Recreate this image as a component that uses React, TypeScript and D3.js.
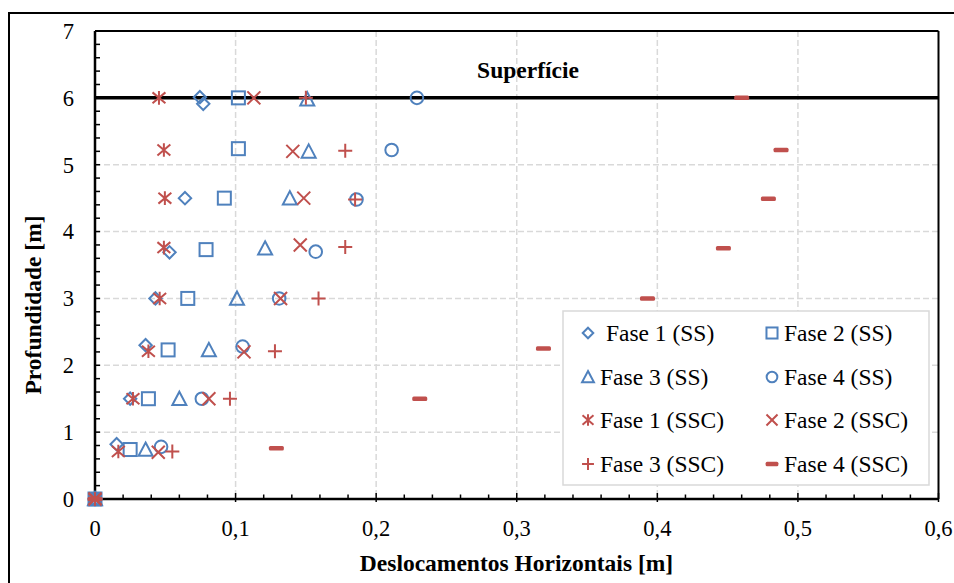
import React from "react";
import * as d3 from "d3";

const xTicks = [0, 0.1, 0.2, 0.3, 0.4, 0.5, 0.6];
const yTicks = [0, 1, 2, 3, 4, 5, 6, 7];
const surfaceDepth = 6;

const f1ssX = [0, 0.0154, 0.025, 0.036, 0.043, 0.053, 0.064, 0.077, 0.0746];
const f1ssY = [0, 0.82, 1.5, 2.3, 3.0, 3.69, 4.5, 5.91, 6.01];
const f2ssX = [0, 0.025, 0.038, 0.052, 0.066, 0.079, 0.092, 0.102, 0.102];
const f2ssY = [0, 0.74, 1.5, 2.23, 3.0, 3.73, 4.5, 5.24, 6.0];
const f3ssX = [0, 0.036, 0.06, 0.081, 0.101, 0.121, 0.1386, 0.152, 0.151];
const f3ssY = [0, 0.74, 1.5, 2.23, 3.0, 3.75, 4.5, 5.2, 5.98];
const f4ssX = [0, 0.047, 0.076, 0.105, 0.131, 0.157, 0.186, 0.211, 0.229];
const f4ssY = [0, 0.78, 1.5, 2.28, 3.0, 3.7, 4.48, 5.22, 6.0];
const f1sscX = [0, 0.0166, 0.027, 0.038, 0.046, 0.049, 0.0497, 0.049, 0.0455];
const f1sscY = [0, 0.71, 1.5, 2.21, 3.0, 3.76, 4.5, 5.22, 6.0];
const f2sscX = [0, 0.045, 0.081, 0.106, 0.132, 0.146, 0.1485, 0.1407, 0.113];
const f2sscY = [0, 0.7, 1.5, 2.2, 3.0, 3.8, 4.5, 5.2, 6.0];
const f3sscX = [0, 0.055, 0.096, 0.128, 0.159, 0.178, 0.185, 0.178, 0.15];
const f3sscY = [0, 0.71, 1.5, 2.21, 3.0, 3.77, 4.48, 5.21, 6.0];
const f4sscX = [0, 0.129, 0.231, 0.319, 0.393, 0.447, 0.479, 0.488, 0.46];
const f4sscY = [0, 0.76, 1.5, 2.25, 3.0, 3.75, 4.49, 5.22, 6.0];

const BLUE = "#4F81BD";
const RED = "#C0504D";

type Shape = "diamond" | "square" | "triangle" | "circle" | "asterisk" | "x" | "plus" | "dash";

const series: { label: string; xs: number[]; ys: number[]; shape: Shape; color: string }[] = [
  { label: " Fase 1 (SS)", xs: f1ssX, ys: f1ssY, shape: "diamond", color: BLUE },
  { label: "Fase 2 (SS)", xs: f2ssX, ys: f2ssY, shape: "square", color: BLUE },
  { label: "Fase 3 (SS)", xs: f3ssX, ys: f3ssY, shape: "triangle", color: BLUE },
  { label: "Fase 4 (SS)", xs: f4ssX, ys: f4ssY, shape: "circle", color: BLUE },
  { label: "Fase 1 (SSC)", xs: f1sscX, ys: f1sscY, shape: "asterisk", color: RED },
  { label: "Fase 2 (SSC)", xs: f2sscX, ys: f2sscY, shape: "x", color: RED },
  { label: "Fase 3 (SSC)", xs: f3sscX, ys: f3sscY, shape: "plus", color: RED },
  { label: "Fase 4 (SSC)", xs: f4sscX, ys: f4sscY, shape: "dash", color: RED },
];

function Marker({ shape, color, cx, cy, s = 1 }: { shape: Shape; color: string; cx: number; cy: number; s?: number }) {
  const sw = 2;
  const t = `translate(${cx},${cy})`;
  switch (shape) {
    case "diamond": {
      const r = 6.2 * s;
      return <path transform={t} d={`M0,${-r}L${r},0L0,${r}L${-r},0Z`} fill="none" stroke={color} strokeWidth={sw} />;
    }
    case "square": {
      const r = 6.5 * s;
      return <rect transform={t} x={-r} y={-r} width={2 * r} height={2 * r} fill="none" stroke={color} strokeWidth={sw} />;
    }
    case "triangle": {
      const r = 7 * s;
      return <path transform={t} d={`M0,${-r}L${r},${r * 0.9}L${-r},${r * 0.9}Z`} fill="none" stroke={color} strokeWidth={sw} />;
    }
    case "circle":
      return <circle cx={cx} cy={cy} r={6.3 * s} fill="none" stroke={color} strokeWidth={sw} />;
    case "asterisk": {
      const r = 6.8 * s;
      const a = r * 0.95;
      return <path transform={t} d={`M0,${-r}L0,${r}M${-a},${-a * 0.85}L${a},${a * 0.85}M${-a},${a * 0.85}L${a},${-a * 0.85}`} stroke={color} strokeWidth={sw} fill="none" />;
    }
    case "x": {
      const r = 6.5 * s;
      return <path transform={t} d={`M${-r},${-r}L${r},${r}M${-r},${r}L${r},${-r}`} stroke={color} strokeWidth={sw} fill="none" />;
    }
    case "plus": {
      const r = 7 * s;
      return <path transform={t} d={`M0,${-r}L0,${r}M${-r},0L${r},0`} stroke={color} strokeWidth={sw} fill="none" />;
    }
    case "dash": {
      const w = 15 * s, h = 4.5;
      return <rect transform={t} x={-w / 2} y={-h / 2} width={w} height={h} rx={1.5} fill={color} />;
    }
  }
  return null;
}

export default function App() {
  const W = 954, H = 583;
  const left = 95, right = 938.5, top = 31, bottom = 499;
  const x = d3.scaleLinear().domain([0, 0.6]).range([left, right]);
  const y = d3.scaleLinear().domain([0, 7]).range([bottom, top]);
  const font = "Times New Roman, Liberation Serif, DejaVu Serif, serif";
  const ts = { fontFamily: font };
  const xMinor = d3.range(0, 0.6001, 0.02);
  const yMinor = d3.range(0, 7.001, 0.2);
  const fmt = (v: number) => (v === 0 ? "0" : d3.format(".1f")(v).replace(".", ","));

  const legX = 563, legY = 311, legW = 366, legH = 174;
  const legCol = [588, 772];
  const legText = [600, 784];
  const legRows = [333, 377, 420, 464];

  return (
    <div style={{ position: "absolute", left: 0, top: 0 }}>
      <svg width={W} height={H} style={{ display: "block", background: "#fff", fontFamily: font }}>
        <rect x={9} y={13} width={960} height={600} fill="#fff" stroke="#000" strokeWidth={2} />
        {/* grid */}
        {xTicks.filter((v) => v > 0 && v < 0.6).map((v) => (
          <line key={"gx" + v} x1={x(v)} x2={x(v)} y1={top} y2={bottom} stroke="#d9d9d9" strokeWidth={1.5} strokeDasharray="6,3" />
        ))}
        {yTicks.filter((v) => v > 0 && v < 7).map((v) => (
          <line key={"gy" + v} x1={left} x2={right} y1={y(v)} y2={y(v)} stroke="#d9d9d9" strokeWidth={1.5} strokeDasharray="6,3" />
        ))}
        {/* frame */}
        <line x1={left} x2={right} y1={top} y2={top} stroke="#000" strokeWidth={2} />
        <line x1={right} x2={right} y1={top} y2={bottom} stroke="#000" strokeWidth={2} />
        <line x1={left} x2={left} y1={top} y2={bottom} stroke="#000" strokeWidth={2.5} />
        <line x1={left} x2={right} y1={bottom} y2={bottom} stroke="#000" strokeWidth={2.5} />
        {/* ticks */}
        {xMinor.map((v, i) => (
          <line key={"xt" + i} x1={x(v)} x2={x(v)} y1={bottom} y2={i % 5 === 0 ? bottom - 6 : bottom - 4.5} stroke="#000" strokeWidth={1.5} />
        ))}
        {xTicks.map((v) => (
          <line key={"xM" + v} x1={x(v)} x2={x(v)} y1={bottom} y2={bottom + 3} stroke="#000" strokeWidth={1.5} />
        ))}
        {yMinor.map((v, i) => (
          <line key={"yt" + i} x1={left} x2={left + 5} y1={y(v)} y2={y(v)} stroke="#000" strokeWidth={1.5} />
        ))}
        {/* tick labels */}
        {xTicks.map((v) => (
          <text key={"xl" + v} x={x(v)} y={536} textAnchor="middle" fontSize={22.5} fill="#000" style={ts}>{fmt(v)}</text>
        ))}
        {yTicks.map((v) => (
          <text key={"yl" + v} x={74} y={y(v)} dy="0.35em" textAnchor="end" fontSize={22.5} fill="#000" style={ts}>{v}</text>
        ))}
        {/* surface line */}
        <line x1={left} x2={right} y1={y(surfaceDepth)} y2={y(surfaceDepth)} stroke="#000" strokeWidth={3.5} />
        <text x={528} y={78} textAnchor="middle" fontSize={23.5} fontWeight="bold" fill="#000" style={ts}>Superfície</text>
        {/* data */}
        {series.map((s, si) =>
          s.xs.map((xv, i) => <Marker key={si + "-" + i} shape={s.shape} color={s.color} cx={x(xv)} cy={y(s.ys[i])} />)
        )}
        {/* axis titles */}
        <text x={516.5} y={571} textAnchor="middle" fontSize={23.5} fontWeight="bold" fill="#000" style={ts}>Deslocamentos Horizontais [m]</text>
        <text transform="translate(41,305) rotate(-90)" textAnchor="middle" fontSize={23.5} fontWeight="bold" fill="#000" style={ts}>Profundidade [m]</text>
        {/* legend */}
        <rect x={legX} y={legY} width={legW} height={legH} fill="#fff" stroke="#d9d9d9" strokeWidth={1.5} />
        {series.map((s, i) => {
          const col = i % 2;
          const row = Math.floor(i / 2);
          return (
            <g key={"lg" + i}>
              <Marker shape={s.shape} color={s.color} cx={legCol[col]} cy={legRows[row]} s={0.85} />
              <text x={legText[col]} y={legRows[row]} dy="0.35em" fontSize={23.5} fill="#000" style={{ ...ts, whiteSpace: "pre" }}>{s.label}</text>
            </g>
          );
        })}
      </svg>
    </div>
  );
}
